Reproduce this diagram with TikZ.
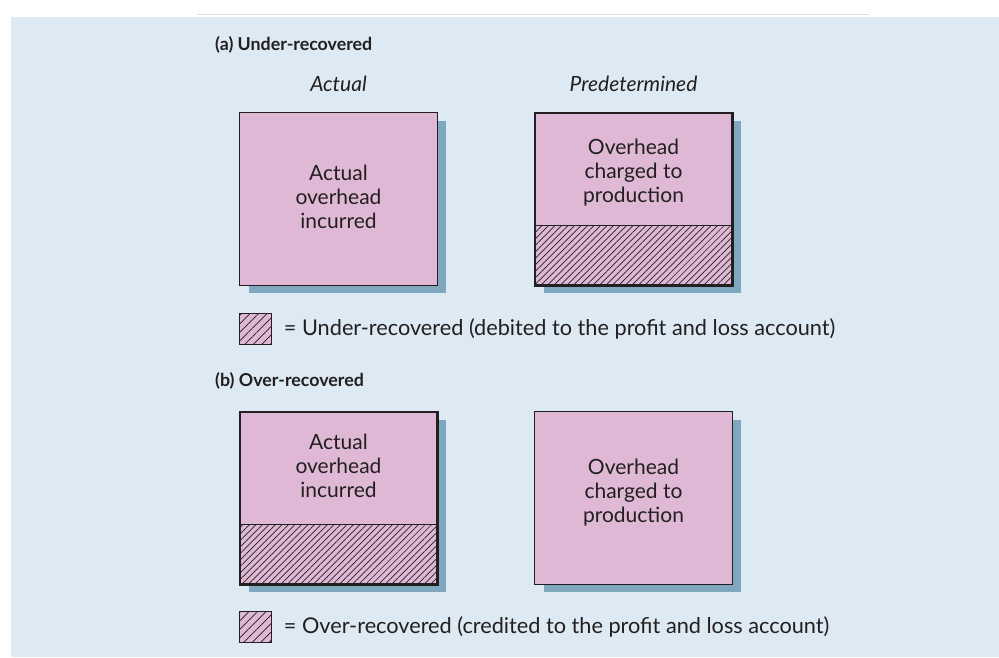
\documentclass[tikz,border=0pt]{standalone}
\usepackage{fontspec}
\setmainfont{Lato}
\usetikzlibrary{patterns.meta,shadows,positioning}
\definecolor{panelblue}{RGB}{221,234,243}
\definecolor{boxpink}{RGB}{222,184,212}
\definecolor{shadowblue}{RGB}{127,168,190}
\definecolor{inkgray}{RGB}{35,31,32}

\tikzset{
  acct/.style={fill=boxpink,minimum width=197pt,minimum height=172pt,inner sep=0pt,
    general shadow={fill=shadowblue,shadow xshift=9pt,shadow yshift=-8pt}},
  hatchbox/.style={preaction={fill=boxpink},draw=inkgray,line width=0.8pt,inner sep=0pt,
    pattern={Lines[angle=45,distance=4.6pt,line width=0.7pt]},pattern color=inkgray},
  keybox/.style={hatchbox,minimum width=32pt,minimum height=31pt,
    pattern={Lines[angle=45,distance=6pt,line width=0.8pt]}},
  boxtext/.style={align=center,text=inkgray,font=\fontsize{21}{24}\selectfont},
  headtext/.style={anchor=base west,inner sep=0pt,text=inkgray,font=\fontsize{17.8}{22}\selectfont\bfseries},
  coltext/.style={anchor=base,text=inkgray,font=\fontsize{21}{22}\selectfont\itshape},
  keytext/.style={anchor=west,text=inkgray,font=\fontsize{21.7}{24}\selectfont},
  thinline/.style={draw=inkgray,line width=1.1pt},
  thickline/.style={draw=inkgray,line width=2.6pt}
}

\begin{document}
\begin{tikzpicture}[x=1pt,y=-1pt]
  \useasboundingbox (0,0) rectangle (999,657);
  \fill[panelblue] (11,17) rectangle (999,657);
  \draw[black!12,line width=0.8pt] (197,14) -- (869,14);

  \node[headtext] (headA) at (215,50) {(a) Under-recovered};
  \node[coltext] (colA1) at (338.5,91) {Actual};
  \node[coltext] (colA2) at (633.5,91) {Predetermined};

  \node[acct] (A1) at (338.5,199) {};
  \draw[thinline] (A1.north west) rectangle (A1.south east);
  \node[boxtext] (A1txt) at (338.5,197) {Actual\\overhead\\incurred};

  \node[acct] (A2) at (633.5,199) {};
  \node[hatchbox,minimum width=197pt,minimum height=59pt,anchor=south] (A2low) at (A2.south) {};
  \draw[thickline] (A2.north west) rectangle (A2.south east);
  \node[boxtext] (A2txt) at (633.5,173) {Overhead\\charged to\\production};

  \node[keybox] (keyA) at (255,328.5) {};
  \node[keytext,right=9pt of keyA] (keyAtxt) {= Under-recovered (debited to the profit and loss account)};

  \node[headtext] (headB) at (215,386) {(b) Over-recovered};

  \node[acct] (B1) at (338.5,498) {};
  \node[hatchbox,minimum width=197pt,minimum height=59pt,anchor=south] (B1low) at (B1.south) {};
  \draw[thickline] (B1.north west) rectangle (B1.south east);
  \node[boxtext] (B1txt) at (338.5,466) {Actual\\overhead\\incurred};

  \node[acct] (B2) at (633.5,498) {};
  \draw[thinline] (B2.north west) rectangle (B2.south east);
  \node[boxtext] (B2txt) at (633.5,493) {Overhead\\charged to\\production};

  \node[keybox] (keyB) at (255,626.5) {};
  \node[keytext,right=9pt of keyB] (keyBtxt) {= Over-recovered (credited to the profit and loss account)};
\end{tikzpicture}
\end{document}
